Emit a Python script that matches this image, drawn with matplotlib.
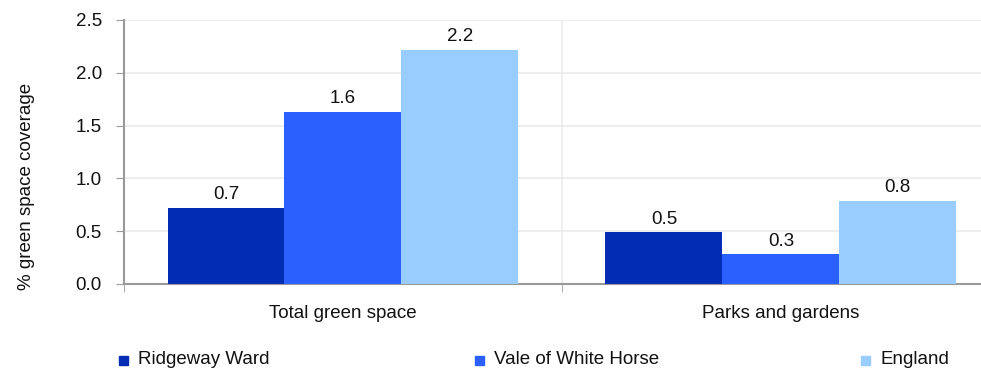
import matplotlib
matplotlib.use("Agg")
import matplotlib.pyplot as plt
from matplotlib.patches import Rectangle
import numpy as np

plt.rcParams['font.family'] = ['Liberation Sans', 'DejaVu Sans']

categories = ["Total green space", "Parks and gardens"]
series_names = ["Ridgeway Ward", "Vale of White Horse", "England"]
ridgeway = [0.72, 0.49]
vale = [1.63, 0.28]
england = [2.22, 0.79]
labels_r = ["0.7", "0.5"]
labels_v = ["1.6", "0.3"]
labels_e = ["2.2", "0.8"]
colors = ["#002DB3", "#2B60FF", "#99CCFF"]

FS = 13.5
W, H = 981, 368
fig = plt.figure(figsize=(W/100, H/100), dpi=100)
ax = fig.add_axes([124/W, 1-284/H, (981-124)/W, (284-20)/H])

x = np.arange(len(categories))
bw = 0.267
series = [ridgeway, vale, england]
lbls = [labels_r, labels_v, labels_e]
for i, (vals, lab, c) in enumerate(zip(series, lbls, colors)):
    pos = x + (i-1)*bw
    bars = ax.bar(pos, vals, width=bw, color=c, zorder=3, label=series_names[i])
    for b, t in zip(bars, lab):
        ax.text(b.get_x()+b.get_width()/2, b.get_height()+0.045, t,
                ha='center', va='bottom', fontsize=FS, color='#111111')

ax.set_xlim(-0.5, 1.457)
ax.set_ylim(0, 2.5)
yt = np.arange(0, 2.51, 0.5)
ax.set_yticks(yt)
ax.set_yticklabels([f"{v:.1f}" for v in yt], fontsize=FS, color='#111111')
ax.set_xticks(x)
ax.set_xticklabels(categories, fontsize=FS, color='#111111')
ax.tick_params(axis='x', length=0, pad=15)
ax.set_xticks([-0.5, 0.5], minor=True)
ax.tick_params(axis='x', which='minor', length=6, color='#999999', direction='out')
ax.tick_params(axis='y', length=6, color='#999999', direction='out', pad=10)
ax.grid(axis='y', color='#EBEBEB', linewidth=1.2, zorder=0)
ax.axvline(0.5, color='#EBEBEB', linewidth=1.2, zorder=0)
for s in ['top', 'right']:
    ax.spines[s].set_visible(False)
for s in ['left', 'bottom']:
    ax.spines[s].set_color('#999999')
    ax.spines[s].set_linewidth(1.5)
fig.text(27/W, 1-(80+293)/2/H, "% green space coverage", rotation=90,
         fontsize=FS, color='#111111', ha='center', va='center')

# legend
leg_x = [118, 474, 860]
for name, c, lx in zip(series_names, colors, leg_x):
    fig.add_artist(Rectangle(((lx+1)/W, 1-365/H), 9/W, 9/H, color=c, transform=fig.transFigure))
    fig.text((lx+20)/W, 1-360/H, name, fontsize=FS, va='center', ha='left', color='#111111')

fig.savefig("out.png", dpi=100)
